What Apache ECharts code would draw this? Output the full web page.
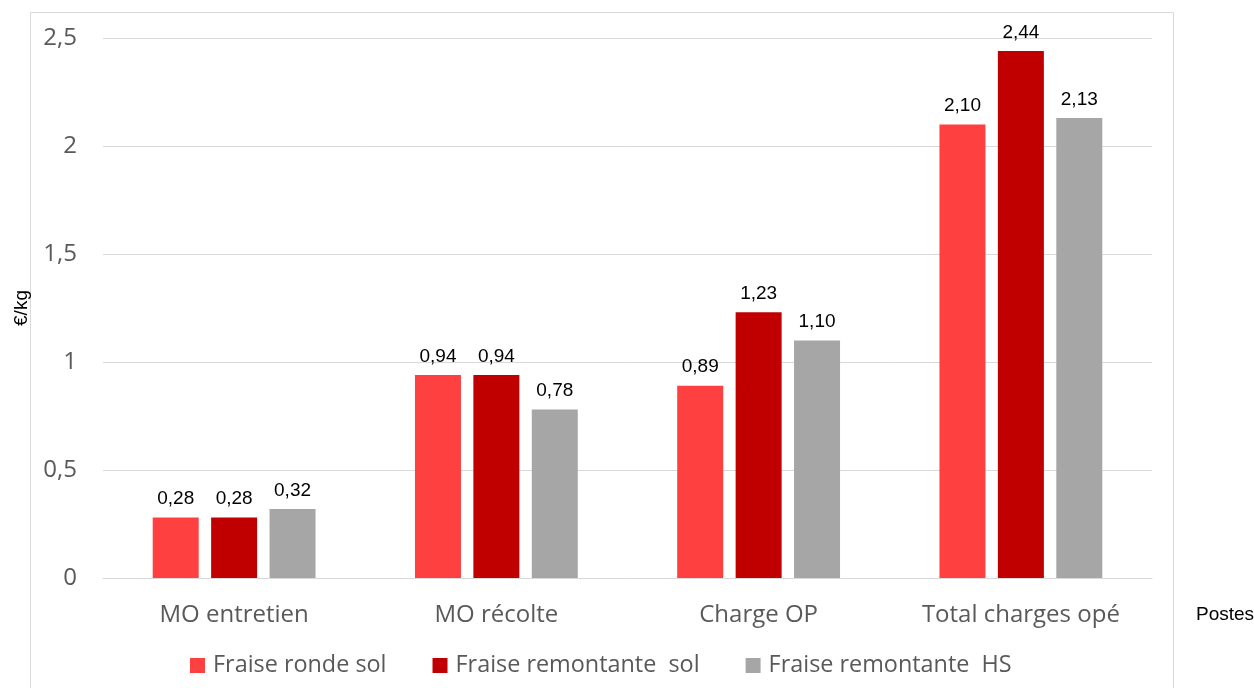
<!DOCTYPE html>
<html><head><meta charset="utf-8">
<script src="https://cdn.jsdelivr.net/npm/echarts@6/dist/echarts.min.js"></script>
<style>html,body{margin:0;padding:0;background:#fff}#c{width:1254px;height:688px}</style>
</head><body><div id="c"></div>
<script>
const categories = ['MO entretien', 'MO récolte', 'Charge OP', 'Total charges opé'];
const seriesNames = ['Fraise ronde sol', 'Fraise remontante  sol', 'Fraise remontante  HS'];
const rondeSol = [0.28, 0.94, 0.89, 2.10];
const remontanteSol = [0.28, 0.94, 1.23, 2.44];
const remontanteHS = [0.32, 0.78, 1.10, 2.13];
const yTicks = [0, 0.5, 1, 1.5, 2, 2.5];
const colors = ['#FF4040', '#C00000', '#A6A6A6'];

const arial = '"Liberation Sans", Arial, sans-serif';
const soft = '"Open Sans", sans-serif';
const chart = echarts.init(document.getElementById('c'), null, {renderer: 'canvas'});
const fmt = v => String(v).replace('.', ',');
const labelCfg = {
  show: true, position: 'top', distance: 9,
  fontFamily: arial, fontSize: 19, color: '#000',
  formatter: p => p.value.toFixed(2).replace('.', ',')
};
const mk = (name, data, i) => ({
  name, type: 'bar', data, barWidth: 46, barGap: '27%',
  itemStyle: {color: colors[i]}, label: labelCfg
});
chart.setOption({
  animation: false,
  graphic: [{
    type: 'rect', shape: {x: 30.5, y: 12.5, width: 1143, height: 700},
    style: {fill: 'none', stroke: '#D9D9D9', lineWidth: 1}, silent: true
  }],
  grid: {left: 103, right: 102, top: 38, bottom: 110, outerBoundsMode: 'none', containLabel: false},
  legend: {
    data: seriesNames, left: 190, top: 654, padding: 0, itemWidth: 15, itemHeight: 15,
    itemGap: 46, icon: 'rect',
    textStyle: {fontFamily: soft, fontSize: 23.4, color: '#595959', padding: [0, 0, 0, 3]}
  },
  xAxis: {
    type: 'category', data: categories,
    name: 'Postes', nameLocation: 'end', nameGap: 44,
    nameTextStyle: {fontFamily: arial, fontSize: 19, color: '#000', verticalAlign: 'top', padding: [27, 0, 0, 0]},
    axisLine: {lineStyle: {color: '#D9D9D9'}}, axisTick: {show: false},
    axisLabel: {fontFamily: soft, fontSize: 24, color: '#595959', margin: 25}
  },
  yAxis: {
    type: 'value', min: yTicks[0], max: yTicks[yTicks.length - 1], interval: 0.5,
    name: '€/kg', nameLocation: 'middle', nameGap: 72, nameRotate: 90,
    nameTextStyle: {fontFamily: arial, fontSize: 19, color: '#000'},
    axisLine: {show: false}, axisTick: {show: false},
    splitLine: {lineStyle: {color: '#D9D9D9'}},
    axisLabel: {fontFamily: soft, fontSize: 24, color: '#595959', margin: 26, formatter: fmt}
  },
  series: [mk(seriesNames[0], rondeSol, 0), mk(seriesNames[1], remontanteSol, 1), mk(seriesNames[2], remontanteHS, 2)]
});
</script></body></html>
